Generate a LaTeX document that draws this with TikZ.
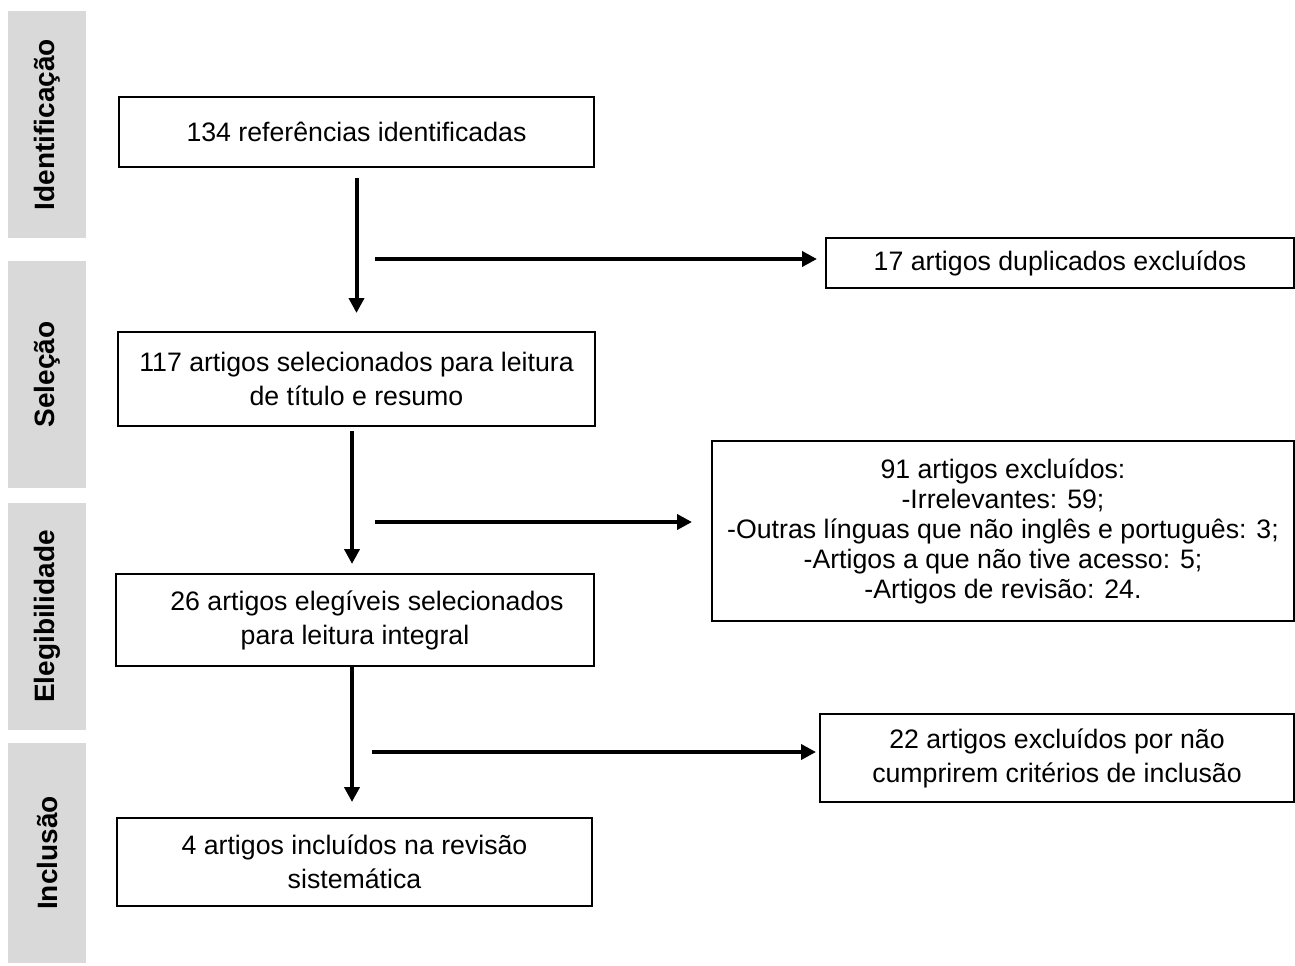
\documentclass[tikz,border=0pt]{standalone}
\usepackage{fontspec}
\setmainfont{Liberation Sans}
\usepackage{tikz}
\usetikzlibrary{arrows.meta,positioning}
\definecolor{barcinza}{RGB}{217,217,217}

\begin{document}
\begin{tikzpicture}[x=0.5pt,y=-0.5pt,font=\fontsize{13.35}{17}\selectfont]
\tikzstyle{box}=[draw=black,line width=1pt,align=center,inner sep=0pt]
\tikzstyle{fase}=[fill=barcinza,minimum width=39pt,rotate=90,font=\fontsize{14}{17}\selectfont\bfseries,inner sep=0pt]
\tikzstyle{seta}=[line width=2pt,-{Triangle[length=7.5pt,width=7.5pt]}]
\useasboundingbox (0,0) rectangle (1295,965);
% fases
\node [fase,minimum width=113.5pt,minimum height=39pt] (id) at(47,124.5) {Identificação};
\node [fase,minimum width=113.5pt,minimum height=39pt] (sel) at(47,374.5) {Seleção};
\node [fase,minimum width=113.5pt,minimum height=39pt] (ele) at(47,616.5) {Elegibilidade};
\node [fase,minimum width=110pt,minimum height=39pt] (inc) at(47,853) {Inclusão};
% caixas
\node [box,minimum width=237.5pt,minimum height=35pt] (1) at(356.5,132) {134 referências identificadas};
\node [box,minimum width=238.5pt,minimum height=47pt] (2) at(356.5,379) {117 artigos selecionados para leitura\\de título e resumo};
\node [box,minimum width=239pt,minimum height=46pt] (3) at(355,620) {\hspace{12pt}26 artigos elegíveis selecionados\\para leitura integral};
\node [box,minimum width=237.5pt,minimum height=44pt] (4) at(354.5,862) {4 artigos incluídos na revisão\\sistemática};
\node [box,minimum width=234pt,minimum height=25pt] (5) at(1060,263) {17 artigos duplicados excluídos};
\node [box,minimum width=291pt,minimum height=90pt,font=\fontsize{13.35}{15}\selectfont] (6) at(1003,531) {91 artigos excluídos:\\-Irrelevantes: 59;\\-Outras línguas que não inglês e português: 3;\\-Artigos a que não tive acesso: 5;\\-Artigos de revisão: 24.};
\node [box,minimum width=237pt,minimum height=44pt] (7) at(1057,758) {22 artigos excluídos por não\\cumprirem critérios de inclusão};
% setas
\coordinate (h1) at(375,259);
\coordinate (h2) at(375,522);
\coordinate (h3) at(372,752);
\draw [seta,shorten <=5pt,shorten >=9pt] (1.south) -- (1.south |- 2.north);
\draw [seta,shorten <=2pt,shorten >=4.5pt] ([xshift=-2.25pt]2.south) -- ([xshift=-2.25pt]2.south |- 3.north);
\draw [seta,shorten >=7.5pt] ([xshift=-1.5pt]3.south) -- ([xshift=-1.5pt]3.south |- 4.north);
\draw [seta,shorten >=4pt] (h1) -- (h1 -| 5.west);
\draw [seta,shorten >=9.5pt] (h2) -- (h2 -| 6.west);
\draw [seta,shorten >=1.5pt] (h3) -- (h3 -| 7.west);
\end{tikzpicture}
\end{document}
